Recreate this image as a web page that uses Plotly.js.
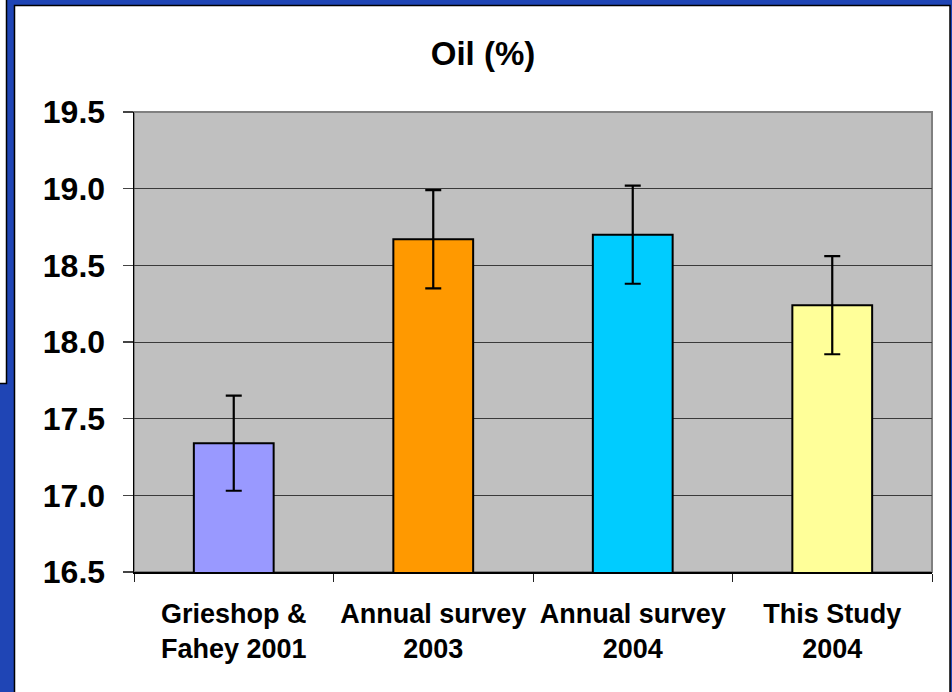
<!DOCTYPE html>
<html>
<head>
<meta charset="utf-8">
<script src="https://cdn.plot.ly/plotly-3.0.1.min.js"></script>
<style>html,body{margin:0;padding:0;background:#fff;}#chart{width:952px;height:692px;}</style>
</head>
<body>
<div id="chart"></div>
<script>
const categories = ["Grieshop &<br>Fahey 2001", "Annual survey<br>2003", "Annual survey<br>2004", "This Study<br>2004"];
const oilValues = [17.34, 18.67, 18.70, 18.24];
const oilErrors = [0.31, 0.32, 0.32, 0.32];
const barColors = ["#9999FF", "#FF9900", "#00CCFF", "#FFFF99"];
const yTickValues = [16.5, 17.0, 17.5, 18.0, 18.5, 19.0, 19.5];

const W = 952, H = 692, L = 134, R = 20, T = 112, B = 120;
const pw = W - L - R, ph = H - T - B;
const px = v => (v - L) / pw;
const py = v => (H - B - v) / ph;
const FONT = "Arial, 'Liberation Sans', sans-serif";

const trace = {
  type: "bar",
  x: categories,
  y: oilValues,
  width: 0.4,
  marker: {color: barColors, line: {color: "#000", width: 2}},
  error_y: {type: "data", array: oilErrors, visible: true, color: "#000", thickness: 2.2, width: 8},
  hoverinfo: "skip"
};

const shapes = [
  {type: "rect", xref: "paper", yref: "paper", layer: "below",
   x0: px(14.5), x1: px(950), y0: py(5.5), y1: py(700),
   fillcolor: "#ffffff", line: {color: "#000", width: 1.5}},
  {type: "rect", xref: "paper", yref: "paper", layer: "below",
   x0: px(-5), x1: px(6.5), y0: py(-5), y1: py(383.5),
   fillcolor: "#ffffff", line: {color: "#000", width: 1.5}},
  {type: "rect", xref: "paper", yref: "paper", layer: "below",
   x0: 0, x1: 1, y0: 0, y1: 1,
   fillcolor: "#C0C0C0", line: {color: "#808080", width: 2}}
];

const layout = {
  width: W, height: H,
  margin: {l: L, r: R, t: T, b: B},
  paper_bgcolor: "#1f45b5",
  plot_bgcolor: "rgba(0,0,0,0)",
  showlegend: false,
  font: {family: FONT, color: "#000"},
  title: {
    text: "Oil (%)",
    font: {family: FONT, size: 33, weight: 700, color: "#000"},
    x: 483 / W, xref: "container", xanchor: "center",
    y: 1 - 53 / H, yref: "container", yanchor: "middle"
  },
  xaxis: {
    type: "category",
    tickson: "boundaries",
    ticks: "outside", ticklen: 8, tickwidth: 1, tickcolor: "#222",
    showline: true, linecolor: "#000", linewidth: 1.5,
    showgrid: false,
    tickfont: {family: FONT, size: 27, weight: 700, color: "#000"},
    ticklabelstandoff: 17,
    fixedrange: true
  },
  yaxis: {
    range: [16.5, 19.5],
    tickvals: yTickValues,
    ticktext: yTickValues.map(v => v.toFixed(1)),
    ticks: "outside", ticklen: 10, tickwidth: 1.5, tickcolor: "#444",
    showline: true, linecolor: "#000", linewidth: 1.5,
    showgrid: true, gridcolor: "#3a3a3a", gridwidth: 1,
    zeroline: false,
    tickfont: {family: FONT, size: 32, weight: 700, color: "#000"},
    ticklabelstandoff: 11,
    fixedrange: true
  },
  shapes: shapes
};

Plotly.newPlot("chart", [trace], layout, {displayModeBar: false, staticPlot: true});
</script>
</body>
</html>
